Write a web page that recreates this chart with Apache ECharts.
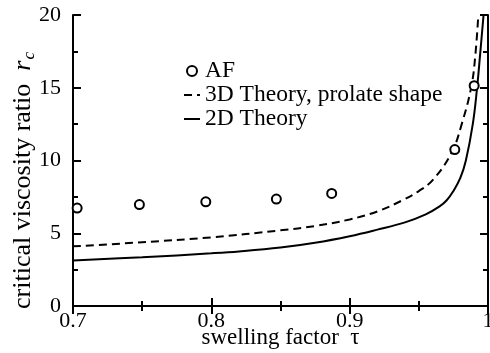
<!DOCTYPE html>
<html>
<head>
<meta charset="utf-8">
<script src="https://cdn.jsdelivr.net/npm/echarts@6/dist/echarts.min.js"></script>
<style>
  html, body { margin: 0; padding: 0; background: #fff; }
  #chart { width: 490px; height: 353px; }
</style>
</head>
<body>
<div id="chart"></div>
<script>
// values
const afTau = [0.703, 0.748, 0.796, 0.847, 0.887, 0.976, 0.990];
const afRc = [6.73, 6.97, 7.16, 7.35, 7.74, 10.75, 15.14];

const theory3dTau = [0.7, 0.75, 0.8, 0.85, 0.875, 0.9, 0.92, 0.938, 0.95, 0.96, 0.9735, 0.981, 0.988, 0.991, 0.993];
const theory3dRc = [4.1, 4.38, 4.72, 5.2, 5.5, 5.95, 6.5, 7.26, 7.9, 8.65, 10.5, 12.5, 15.1, 17.4, 20];

const theory2dTau = [0.7, 0.75, 0.8, 0.82, 0.85, 0.875, 0.9, 0.92, 0.94, 0.955, 0.965, 0.97, 0.975, 0.98, 0.984, 0.989, 0.992, 0.9944, 0.9968];
const theory2dRc = [3.13, 3.35, 3.62, 3.75, 4.02, 4.35, 4.8, 5.25, 5.75, 6.3, 6.85, 7.25, 7.9, 8.8, 10.0, 12.5, 14.9, 17.4, 20];

const xTicks = { min: 0.7, max: 1.0, step: 0.1 };
const yTicks = { min: 0, max: 20, step: 5 };

const pairs = (xs, ys) => xs.map((x, i) => [x, ys[i]]);

const font = 'Liberation Serif, Times New Roman, serif';
const chart = echarts.init(document.getElementById('chart'));

const axisCommon = {
  axisLine: { lineStyle: { color: '#000', width: 2 } },
  axisTick: { inside: true, length: 8, lineStyle: { color: '#000', width: 2 } },
  minorTick: { show: true, splitNumber: 2, length: 5, lineStyle: { color: '#000', width: 2 } },
  splitLine: { show: false }
};

const hideSymbol = { color: 'transparent', borderColor: 'transparent', opacity: 0 };

const option = {
  animation: false,
  backgroundColor: '#fff',
  grid: { left: 73, right: 2, top: 15, bottom: 47, containLabel: false, outerBoundsMode: 'none' },
  legend: {
    orient: 'vertical',
    left: 178,
    top: 54,
    itemWidth: 16,
    itemHeight: 10,
    itemGap: 0,
    textStyle: { fontFamily: font, fontSize: 23.5, color: '#000', lineHeight: 23.5 },
    data: [
      { name: 'AF' },
      { name: '3D Theory, prolate shape', itemStyle: hideSymbol },
      { name: '2D Theory', itemStyle: hideSymbol }
    ]
  },
  xAxis: [
    Object.assign({
      type: 'value',
      min: xTicks.min,
      max: xTicks.max,
      interval: xTicks.step,
      position: 'bottom',
      name: 'swelling factor  τ',
      nameLocation: 'middle',
      nameMoveOverlap: false,
      nameGap: 20,
      nameTextStyle: { fontFamily: font, fontSize: 23, color: '#000' },
      axisLabel: {
        fontFamily: font, fontSize: 22, color: '#000', margin: 4,
        formatter: v => (Math.abs(v - 1) < 1e-9 ? '1' : v.toFixed(1))
      }
    }, axisCommon),
    Object.assign({
      type: 'value',
      min: xTicks.min,
      max: xTicks.max,
      interval: xTicks.step,
      position: 'top',
      axisLabel: { show: false }
    }, axisCommon)
  ],
  yAxis: [
    Object.assign({
      type: 'value',
      min: yTicks.min,
      max: yTicks.max,
      interval: yTicks.step,
      position: 'left',
      name: 'critical viscosity ratio  {i|r}{s|c}{p| }',
      nameLocation: 'middle',
      nameMoveOverlap: false,
      nameGap: 35,
      nameRotate: 90,
      nameTextStyle: {
        fontFamily: font, fontSize: 26, color: '#000',
        rich: {
          i: { fontFamily: font, fontSize: 26, fontStyle: 'italic', color: '#000' },
          s: { fontFamily: font, fontSize: 17, fontStyle: 'italic', color: '#000', padding: [12, 0, 0, 1] },
          p: { fontFamily: font, fontSize: 26, width: 40 }
        }
      },
      axisLabel: { fontFamily: font, fontSize: 22, color: '#000', margin: 12 }
    }, axisCommon),
    Object.assign({
      type: 'value',
      min: yTicks.min,
      max: yTicks.max,
      interval: yTicks.step,
      position: 'right',
      axisLabel: { show: false }
    }, axisCommon)
  ],
  series: [
    {
      name: 'AF',
      type: 'scatter',
      data: pairs(afTau, afRc),
      symbol: 'emptyCircle',
      symbolSize: 9,
      itemStyle: { color: '#000', borderColor: '#000', borderWidth: 2, opacity: 1 },
      z: 5
    },
    {
      name: '3D Theory, prolate shape',
      type: 'line',
      data: pairs(theory3dTau, theory3dRc),
      showSymbol: false,
      symbol: 'none',
      smooth: 0.4,
      lineStyle: { color: '#000', width: 2, type: [8, 5] },
      itemStyle: { color: '#000' }
    },
    {
      name: '2D Theory',
      type: 'line',
      data: pairs(theory2dTau, theory2dRc),
      showSymbol: false,
      symbol: 'none',
      smooth: 0.4,
      lineStyle: { color: '#000', width: 2 },
      itemStyle: { color: '#000' }
    }
  ]
};

chart.setOption(option);
</script>
</body>
</html>
